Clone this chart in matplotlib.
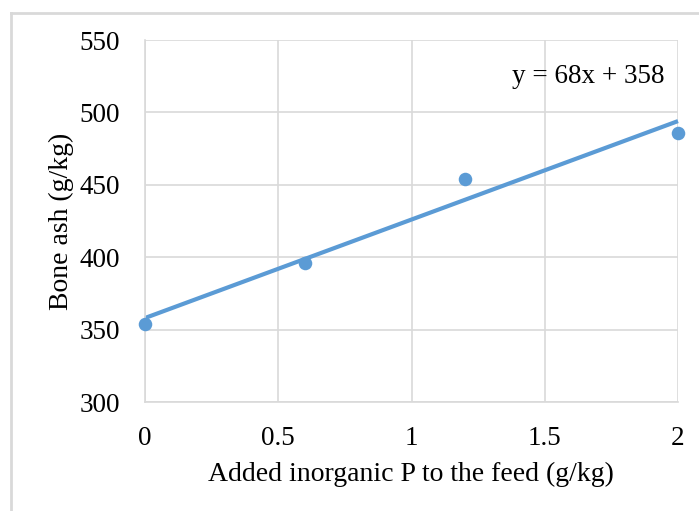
import numpy as np
import matplotlib.pyplot as plt
from matplotlib.lines import Line2D

plt.rcParams['font.family'] = ['Liberation Serif', 'DejaVu Serif']

x_vals = [0, 0.6, 1.2, 2]
bone_ash = [354, 396, 454, 486]
slope = 68
intercept = 358
x_ticks = [0, 0.5, 1, 1.5, 2]
y_ticks = [300, 350, 400, 450, 500, 550]

blue = '#5B9BD5'
grid = '#D9D9D9'

fig = plt.figure(figsize=(6.99, 5.11), dpi=100)
ax = fig.add_axes([145/699, 1-402/511, (678-145)/699, (402-40)/511])

ax.scatter(x_vals, bone_ash, s=95, color=blue, zorder=3, clip_on=False, linewidths=0)
xt = np.array([0, 2])
ax.plot(xt, slope*xt + intercept, color=blue, lw=3, zorder=2, solid_capstyle='butt', clip_on=False)

ax.set_xlim(0, 2)
ax.set_ylim(300, 550)
ax.set_xticks(x_ticks)
ax.set_xticklabels(['0', '0.5', '1', '1.5', '2'])
ax.set_yticks(y_ticks)
ax.grid(True, color=grid, lw=1.2)
ax.set_axisbelow(True)
for s in ['top', 'right']:
    ax.spines[s].set_visible(False)
for s in ['left', 'bottom']:
    ax.spines[s].set_color(grid)
    ax.spines[s].set_linewidth(1.2)
ax.tick_params(length=0, labelsize=19.5, colors='black')
ax.tick_params(axis='y', pad=18)
ax.tick_params(axis='x', pad=17)

ax.set_xlabel('Added inorganic P to the feed (g/kg)', fontsize=20)
ax.xaxis.set_label_coords(0.499, -0.165)
ax.set_ylabel('Bone ash (g/kg)', fontsize=20, va='center')
ax.yaxis.set_label_coords(-0.156, 0.5)

ax.text(1.95, 525, 'y = 68x + 358', fontsize=19.5, ha='right', va='center')

# outer chart border
fig.add_artist(Line2D([11/699, 11/699], [0, 1-13/511], color='#D9D9D9', lw=2, transform=fig.transFigure))
fig.add_artist(Line2D([11/699, 1], [1-13/511, 1-13/511], color='#D9D9D9', lw=2, transform=fig.transFigure))

fig.savefig('out.png', dpi=100)
